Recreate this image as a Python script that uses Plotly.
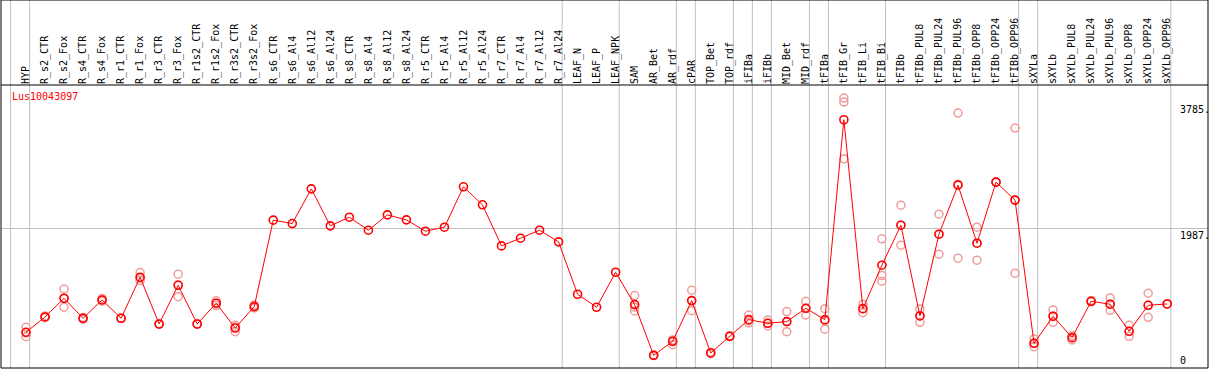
import plotly.graph_objects as go

categories = ["HYP", "R_s2_CTR", "R_s2_Fox", "R_s4_CTR", "R_s4_Fox", "R_r1_CTR", "R_r1_Fox",
              "R_r3_CTR", "R_r3_Fox", "R_r1s2_CTR", "R_r1s2_Fox", "R_r3s2_CTR", "R_r3s2_Fox",
              "R_s6_CTR", "R_s6_Al4", "R_s6_Al12", "R_s6_Al24", "R_s8_CTR", "R_s8_Al4",
              "R_s8_Al12", "R_s8_Al24", "R_r5_CTR", "R_r5_Al4", "R_r5_Al12", "R_r5_Al24",
              "R_r7_CTR", "R_r7_Al4", "R_r7_Al12", "R_r7_Al24", "LEAF_N", "LEAF_P", "LEAF_NPK",
              "SAM", "AR_Bet", "AR_rdf", "cPAR", "TOP_Bet", "TOP_rdf", "iFIBa", "iFIBb",
              "MID_Bet", "MID_rdf", "tFIBa", "tFIB_Gr", "tFIB_Li", "tFIB_Bi", "tFIBb",
              "tFIBb_PUL8", "tFIBb_PUL24", "tFIBb_PUL96", "tFIBb_OPP8", "tFIBb_OPP24",
              "tFIBb_OPP96", "sXYLa", "sXYLb", "sXYLb_PUL8", "sXYLb_PUL24", "sXYLb_PUL96",
              "sXYLb_OPP8", "sXYLb_OPP24", "sXYLb_OPP96"]

mean_values = [508, 726, 992, 707, 968, 707, 1291, 626, 1177, 626, 921, 569, 873,
               2103, 2055, 2548, 2022, 2145, 1960, 2178, 2107, 1946, 2003, 2577, 2321,
               1737, 1846, 1960, 1794, 1049, 864, 1362, 902, 180, 379, 959, 214, 451,
               688, 636, 660, 849, 688, 3531, 844, 1462, 2031, 740, 1903, 2601, 1775,
               2644, 2388, 351, 736, 432, 949, 907, 522, 892, 911]

rep_a = [579, 740, 1125, 720, 990, 707, 1357, 626, 1334, 626, 955, 608, 895,
         None, None, None, None, None, None, None, None, None, None, None, None,
         None, None, None, None, None, None, None, 1030, 180, 400, 1106, 225, 460,
         754, 683, 802, 949, 844, 3840, 907, 1837, 2316, 840, 2188, 3626, 2003,
         2644, 3413, 413, 826, 460, 960, 997, 608, 1063, 911]
rep_b = [446, 715, 864, 695, 950, 707, 1243, 626, 1015, 626, 888, 517, 855,
         None, None, None, None, None, None, None, None, None, None, None, None,
         None, None, None, None, None, None, None, 812, 180, 332, 816, 205, 445,
         640, 598, 517, 754, 551, 3783, 787, 1314, 1747, 650, 1619, 1562, 1533,
         2644, 1348, 304, 650, 400, 940, 821, 451, 721, 911]
rep_c = [500, 726, 990, 707, 968, 707, 1275, 626, 1180, 626, 921, 580, 873,
         None, None, None, None, None, None, None, None, None, None, None, None,
         None, None, None, None, None, None, None, 865, 180, 379, 959, 214, 451,
         670, 636, 660, 849, 670, 2976, 844, 1234, 2031, 740, 1903, 2615, 1775,
         2644, 2388, 351, 736, 432, 949, 907, 522, 892, 911]

group_ends = ["HYP", "R_r7_Al24", "LEAF_NPK", "AR_rdf", "cPAR", "TOP_rdf", "iFIBa", "iFIBb",
              "MID_rdf", "tFIBa", "tFIB_Bi", "tFIBb_OPP96", "sXYLa", "sXYLb_OPP96"]

y_labels = [3785, 1987, 0]
gene_name = "Lus10043097"

W, H = 1209, 370
ML, MR, MT, MB = 1, 1, 85, 2
plot_h = H - MT - MB
top_paper = 1 + MT / plot_h
sep_offset = 0.19
font_name = "DejaVu Sans Mono"

fig = go.Figure()

rep_color = "#f09c9c"
for reps in (rep_a, rep_b, rep_c):
    fig.add_trace(go.Scatter(
        x=categories, y=reps, mode="markers",
        marker=dict(symbol="circle-open", size=8, color=rep_color, line=dict(width=1.5)),
        hoverinfo="skip", showlegend=False))

fig.add_trace(go.Scatter(
    x=categories, y=mean_values, mode="lines+markers",
    line=dict(color="#ff0000", width=1),
    marker=dict(symbol="circle-open", size=8, color="#ff0000", line=dict(width=1.6)),
    showlegend=False))

shapes = []
sep_positions = [-1 + sep_offset] + [categories.index(c) + sep_offset for c in group_ends]
for p in sep_positions:
    shapes.append(dict(type="line", xref="x", yref="paper", x0=p, x1=p, y0=0, y1=top_paper,
                       line=dict(color="#c0c0c0", width=1), layer="below"))
# borders
shapes.append(dict(type="rect", xref="paper", yref="paper", x0=0, x1=1, y0=0, y1=top_paper,
                   line=dict(color="black", width=1)))
shapes.append(dict(type="line", xref="paper", yref="paper", x0=0, x1=1, y0=1, y1=1,
                   line=dict(color="black", width=1)))

annotations = [dict(text=gene_name, xref="paper", yref="paper", x=9 / (W - ML - MR), y=(H - MB - 97) / plot_h,
                    xanchor="left", yanchor="middle", showarrow=False,
                    font=dict(family=font_name, size=10, color="#ff0000"))]
for v in y_labels:
    annotations.append(dict(text=(f"{v}." if v else "0"), xref="paper", yref="y",
                            x=(1178 - ML) / (W - ML - MR), y=v,
                            xanchor="left", yanchor=("top" if v else "bottom"), showarrow=False,
                            font=dict(family=font_name, size=10, color="black")))

px_per_cat = 19.02
first_px = 26
x_lo = (ML - first_px) / px_per_cat
x_hi = (W - MR - first_px) / px_per_cat
y_max = 1987 * plot_h / (H - MB - 228.3)

fig.update_layout(
    width=W, height=H,
    margin=dict(l=ML, r=MR, t=MT, b=MB),
    paper_bgcolor="white", plot_bgcolor="white",
    shapes=shapes, annotations=annotations,
    xaxis=dict(type="category", side="top", range=[x_lo, x_hi], tickangle=-90,
               tickmode="array", tickvals=categories, ticktext=categories,
               ticks="", showgrid=False, zeroline=False, showline=False,
               tickfont=dict(family=font_name, size=10, color="black"), ticklabelstandoff=0),
    yaxis=dict(range=[0, y_max], tickmode="array", tickvals=[1987], showticklabels=False,
               showgrid=True, gridcolor="#c0c0c0", gridwidth=1, zeroline=False, showline=False),
)

fig.write_html("out.html", config={"displayModeBar": False},
               post_script="document.body.style.margin='0px';document.body.style.overflow='hidden';")
